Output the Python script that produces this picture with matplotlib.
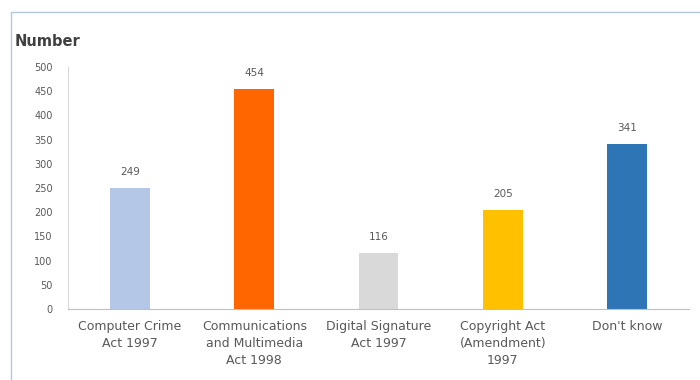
import matplotlib.pyplot as plt
import matplotlib.patches as mpatches
import numpy as np

categories = ['Computer Crime\nAct 1997', 'Communications\nand Multimedia\nAct 1998',
              'Digital Signature\nAct 1997', 'Copyright Act\n(Amendment)\n1997', "Don't know"]
values = [249, 454, 116, 205, 341]
bar_colors = ['#b4c7e7', '#ff6600', '#d9d9d9', '#ffc000', '#2e75b6']
yticks = np.arange(0, 501, 50)

TXT = '#595959'

def main():
   plt.rcParams['font.family'] = ['DejaVu Sans']
   fig = plt.figure(figsize=(7, 3.8), dpi=100)
   ax = fig.add_axes([68 / 700, 71 / 380, 621 / 700, 242 / 380])

   x = np.arange(len(categories))
   bars = ax.bar(x, values, width=0.32, color=bar_colors)
   for b, v in zip(bars, values):
      ax.annotate(str(v), (b.get_x() + b.get_width() / 2, v), xytext=(0, 8),
                  textcoords='offset points', ha='center', va='bottom', fontsize=7.5, color=TXT)

   ax.set_xlim(-0.5, len(categories) - 0.5)
   ax.set_ylim(0, 500)
   ax.set_yticks(yticks)
   ax.set_xticks(x, categories)
   ax.tick_params(axis='both', length=0, colors=TXT)
   ax.tick_params(axis='x', pad=8, labelsize=9)
   ax.tick_params(axis='y', pad=11, labelsize=7)
   for lbl in ax.get_xticklabels():
      lbl.set_linespacing(1.4)
   for s in ['top', 'right']:
      ax.spines[s].set_visible(False)
   ax.spines['bottom'].set_color('#bfbfbf')
   ax.spines['left'].set_color('#d9d9d9')

   fig.text(15 / 700, 1 - 42 / 380, 'Number', fontsize=10.5, fontweight='bold', color='#404040',
            ha='left', va='center')

   # chart border
   fig.patches.append(mpatches.Rectangle((11 / 700, -0.05), 1.0, 1 - 12 / 380 + 0.05,
                      transform=fig.transFigure, fill=False, edgecolor='#b4c8dc', lw=1))

   plt.savefig('out.png', dpi=100)
   plt.close()

if __name__ == '__main__':
   main()
